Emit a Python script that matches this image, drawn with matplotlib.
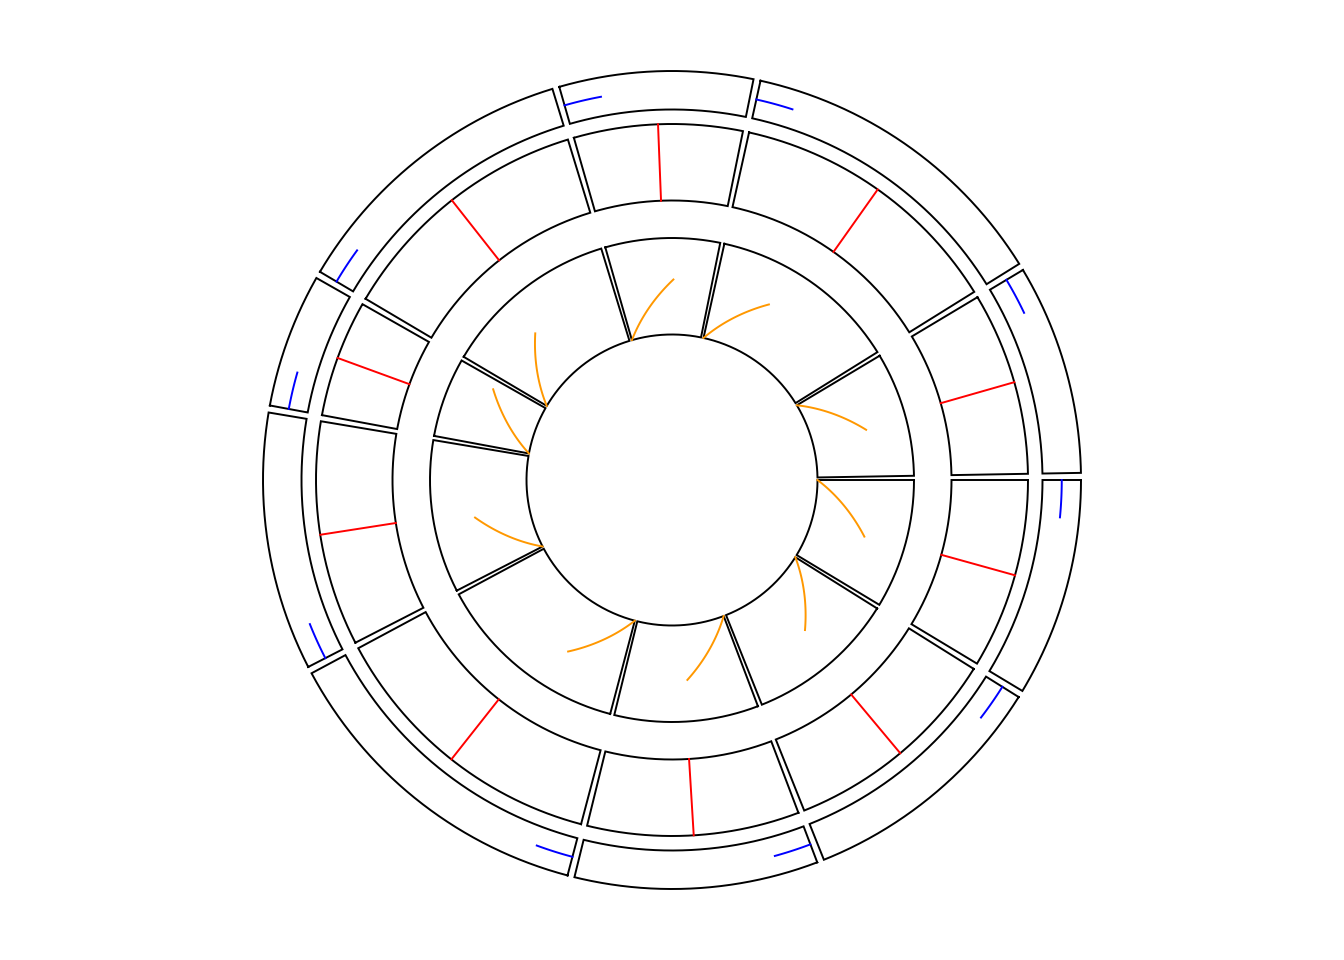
import numpy as np
import matplotlib
matplotlib.use("Agg")
import matplotlib.pyplot as plt

# x range of each sector; first sector starts at 0 degrees and goes clockwise
sector_len = [31.05, 36.15, 34.6, 47.0, 36.7, 19.1, 42.4, 27.5, 45.6, 29.9]
gap_deg = 1.0
start_deg = 0.0

# lines drawn in every sector: x is the offset from the sector start,
# y is the position inside the track (0 = bottom, 1 = top)
orange_x = [0.0, 16.4]
orange_y = [0.0, 0.57]
blue_x = [0.0, 5.5]
blue_y = [0.5, 0.5]
red_y = [0.0, 1.0]  # red line sits at the middle of each sector

# track radii in pixels (inner, outer)
inner_track = (145.5, 242.0)
middle_track = (279.5, 356.0)
outer_track = (370.5, 409.0)

cx, cy = 672, 480
lw = 1.4


def xy(theta, r):
    t = np.radians(theta)
    return cx + r * np.cos(t), cy - r * np.sin(t)


# sector start/end angles
deg_per_unit = (360 - gap_deg * len(sector_len)) / sum(sector_len)
starts, ends = [], []
a = start_deg
for L in sector_len:
    starts.append(a)
    ends.append(a - L * deg_per_unit)
    a = a - L * deg_per_unit - gap_deg


def draw_cells(ax, track):
    r0, r1 = track
    for s, e in zip(starts, ends):
        th = np.linspace(s, e, 100)
        x1, y1 = xy(th, r1)
        x0, y0 = xy(th[::-1], r0)
        xs = np.concatenate([x1, x0, x1[:1]])
        ys = np.concatenate([y1, y0, y1[:1]])
        ax.plot(xs, ys, color="black", lw=lw, solid_joinstyle="miter")


def draw_line(ax, track, s, xv, yv, color):
    r0, r1 = track
    t = np.linspace(0, 1, 100)
    xx = xv[0] + t * (xv[1] - xv[0])
    yy = yv[0] + t * (yv[1] - yv[0])
    th = s - xx * deg_per_unit
    r = r0 + yy * (r1 - r0)
    px, py = xy(th, r)
    ax.plot(px, py, color=color, lw=lw)


fig = plt.figure(figsize=(13.44, 9.6), dpi=100)
ax = fig.add_axes([0, 0, 1, 1])
ax.set_xlim(0, 1344)
ax.set_ylim(960, 0)
ax.axis("off")

for tr in (inner_track, middle_track, outer_track):
    draw_cells(ax, tr)

for s, e in zip(starts, ends):
    draw_line(ax, inner_track, s, orange_x, orange_y, "#FF9800")
    mid = (s - e) / 2 / deg_per_unit
    draw_line(ax, middle_track, s, [mid, mid], red_y, "#FF0000")
    draw_line(ax, outer_track, s, blue_x, blue_y, "#0000FF")

fig.savefig("out.png", dpi=100)
